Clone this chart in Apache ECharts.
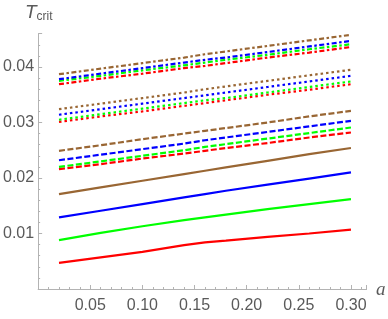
<!DOCTYPE html>
<html><head><meta charset="utf-8">
<script src="https://cdn.jsdelivr.net/npm/echarts@6/dist/echarts.min.js"></script>
<style>html,body{margin:0;padding:0;background:#fff}#c{width:388px;height:319px}</style>
</head><body><div id="c"></div>
<script>
const aValues = [0.02, 0.06, 0.10, 0.14, 0.16, 0.18, 0.22, 0.26, 0.30];
const xTicks = [0.05, 0.10, 0.15, 0.20, 0.25, 0.30];
const yTicks = [0.01, 0.02, 0.03, 0.04];
// solid group
const solidRed   = [0.0047, 0.0057, 0.0067, 0.0079, 0.0084, 0.0087, 0.0094, 0.0100, 0.0107];
const solidGreen = [0.0088, 0.0101, 0.0113, 0.0124, 0.0129, 0.0134, 0.0144, 0.0153, 0.0162];
const solidBlue  = [0.0129, 0.0141, 0.0153, 0.0165, 0.0171, 0.0177, 0.0188, 0.0199, 0.0210];
const solidBrown = [0.0171, 0.0183, 0.0195, 0.0207, 0.0213, 0.0219, 0.0231, 0.0243, 0.0254];
// dashed group
const dashRed   = [0.0216, 0.0225, 0.0235, 0.0244, 0.0249, 0.0254, 0.0263, 0.0273, 0.0282];
const dashGreen = [0.0220, 0.0230, 0.0240, 0.0250, 0.0256, 0.0261, 0.0271, 0.0281, 0.0291];
const dashBlue  = [0.0232, 0.0242, 0.0252, 0.0262, 0.0268, 0.0273, 0.0283, 0.0293, 0.0303];
const dashBrown = [0.0249, 0.0259, 0.0270, 0.0280, 0.0285, 0.0290, 0.0300, 0.0311, 0.0321];
// dotted group
const dotRed   = [0.0301, 0.0311, 0.0320, 0.0330, 0.0335, 0.0340, 0.0350, 0.0359, 0.0369];
const dotGreen = [0.0305, 0.0315, 0.0325, 0.0335, 0.0340, 0.0344, 0.0354, 0.0364, 0.0374];
const dotBlue  = [0.0314, 0.0324, 0.0334, 0.0344, 0.0349, 0.0354, 0.0364, 0.0374, 0.0384];
const dotBrown = [0.0324, 0.0334, 0.0344, 0.0354, 0.0360, 0.0365, 0.0375, 0.0385, 0.0395];
// dash-dot group
const ddRed   = [0.0369, 0.0379, 0.0388, 0.0398, 0.0402, 0.0407, 0.0417, 0.0426, 0.0436];
const ddGreen = [0.0375, 0.0384, 0.0394, 0.0403, 0.0408, 0.0413, 0.0422, 0.0432, 0.0441];
const ddBlue  = [0.0378, 0.0388, 0.0398, 0.0408, 0.0413, 0.0417, 0.0427, 0.0437, 0.0447];
const ddBrown = [0.0387, 0.0397, 0.0407, 0.0417, 0.0423, 0.0428, 0.0438, 0.0448, 0.0458];

const RED = '#ff0000', GREEN = '#00ff00', BLUE = '#0000ff', BROWN = '#996633';
function mk(vals, color, type) {
  return {
    type: 'line', data: aValues.map((a, i) => [a, vals[i]]), showSymbol: false, silent: true,
    lineStyle: { color: color, width: 2.2, type: type, cap: 'butt' }, animation: false
  };
}
const DASH = [6, 2.5], DOT = [2.5, 3], DD = [5, 2.5, 2.5, 2.5];
const series = [
  mk(solidRed, RED, 'solid'), mk(solidGreen, GREEN, 'solid'), mk(solidBlue, BLUE, 'solid'), mk(solidBrown, BROWN, 'solid'),
  mk(dashRed, RED, DASH), mk(dashGreen, GREEN, DASH), mk(dashBlue, BLUE, DASH), mk(dashBrown, BROWN, DASH),
  mk(dotRed, RED, DOT), mk(dotGreen, GREEN, DOT), mk(dotBlue, BLUE, DOT), mk(dotBrown, BROWN, DOT),
  mk(ddRed, RED, DD), mk(ddGreen, GREEN, DD), mk(ddBlue, BLUE, DD), mk(ddBrown, BROWN, DD)
];
const axisColor = '#b3b3b3', labelColor = '#5a5a5a';
const near = (v, arr) => arr.some(t => Math.abs(t - v) < 1e-9);
const chart = echarts.init(document.getElementById('c'), null, { renderer: 'canvas' });
chart.setOption({
  animation: false,
  grid: { left: 36.6, right: 21.4, top: 33.7, bottom: 30 },
  xAxis: {
    type: 'value', min: 0, max: 0.315, interval: 0.05,
    axisLine: { show: true, lineStyle: { color: axisColor, width: 1 } },
    axisTick: { show: true, inside: true, length: 4, lineStyle: { color: axisColor } },
    minorTick: { show: true, splitNumber: 5, length: 2, lineStyle: { color: axisColor } },
    splitLine: { show: false },
    axisLabel: { color: labelColor, fontSize: 16, fontFamily: 'Liberation Sans', margin: 9,
      formatter: v => near(v, xTicks) ? v.toFixed(2) : '' },
    showMinLabel: false
  },
  yAxis: {
    type: 'value', min: 0, max: 0.046, interval: 0.01,
    axisLine: { show: true, lineStyle: { color: axisColor, width: 1 } },
    axisTick: { show: true, inside: true, length: 4, lineStyle: { color: axisColor } },
    minorTick: { show: true, splitNumber: 5, length: 2, lineStyle: { color: axisColor } },
    splitLine: { show: false },
    axisLabel: { color: labelColor, fontSize: 16, fontFamily: 'Liberation Sans', margin: 4,
      formatter: v => near(v, yTicks) ? v.toFixed(2) : '' }
  },
  graphic: [
    { type: 'text', left: 25, top: 3, style: {
      rich: { T: { fontSize: 19, fontStyle: 'italic', fontFamily: 'Liberation Sans', fill: labelColor },
              s: { fontSize: 12, fontFamily: 'Liberation Sans', fill: labelColor, padding: [8, 0, 0, 0] } },
      text: '{T|T}{s|crit}' } },
    { type: 'text', left: 376, top: 280, style: { text: 'a', fontSize: 19, fontStyle: 'italic',
      fontFamily: 'Liberation Serif', fill: labelColor } }
  ],
  series: series
});
</script></body></html>
